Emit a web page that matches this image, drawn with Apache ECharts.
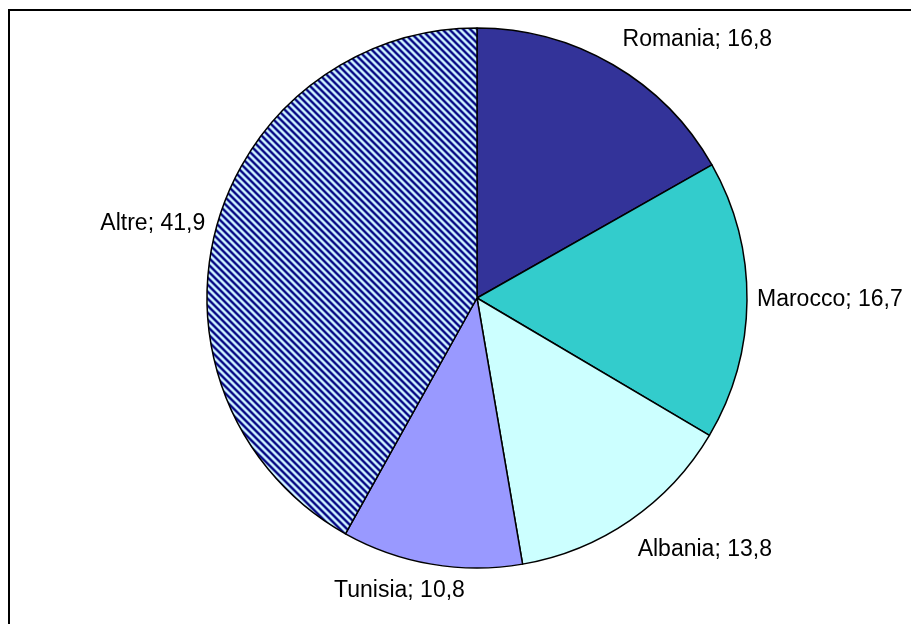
<!DOCTYPE html>
<html><head><meta charset="utf-8">
<script src="https://cdn.jsdelivr.net/npm/echarts@6/dist/echarts.min.js"></script>
<style>html,body{margin:0;padding:0;background:#fff}#c{width:911px;height:624px}</style>
</head><body><div id="c"></div>
<script>
const categories = ['Romania', 'Marocco', 'Albania', 'Tunisia', 'Altre'];
const values = [16.8, 16.7, 13.8, 10.8, 41.9];
const sliceColors = ['#333399', '#33cccc', '#ccffff', '#9999ff', null];

// diagonal stripe pattern for "Altre"
function makePattern() {
  const N = 7;
  const cv = document.createElement('canvas');
  cv.width = N; cv.height = N;
  const ctx = cv.getContext('2d');
  const img = ctx.createImageData(N, N);
  const dark = [0, 0, 128], light = [204, 240, 255];
  for (let y = 0; y < N; y++) for (let x = 0; x < N; x++) {
    const t = (((x - y) % N) + N) % N / N;
    let c = 0.55 - 0.6 * Math.cos(2 * Math.PI * t);
    c = Math.max(0, Math.min(1, c));
    const k = (y * N + x) * 4;
    for (let j = 0; j < 3; j++) img.data[k + j] = Math.round(dark[j] + (light[j] - dark[j]) * c);
    img.data[k + 3] = 255;
  }
  ctx.putImageData(img, 0, 0);
  return cv;
}
const pattern = { image: makePattern(), repeat: 'repeat' };

const labelOffsets = [[-3, -12], [-10, -1], [-6, 17], [41, 12], [9, -3]];

const chart = echarts.init(document.getElementById('c'), null, { renderer: 'canvas' });
chart.setOption({
  animation: false,
  backgroundColor: '#fff',
  graphic: [{
    type: 'rect', shape: { x: 9, y: 10, width: 940, height: 660 },
    style: { fill: 'none', stroke: '#000', lineWidth: 2 }, silent: true, z: -1
  }],
  series: [{
    type: 'pie',
    center: [477, 298],
    radius: 270,
    startAngle: 90,
    clockwise: true,
    avoidLabelOverlap: false,
    itemStyle: { borderColor: '#000', borderWidth: 1.5 },
    label: {
      show: true, position: 'outside',
      formatter: p => p.name + '; ' + String(p.value).replace('.', ','),
      fontFamily: 'Liberation Sans, Arial, sans-serif', fontSize: 23, color: '#000'
    },
    labelLine: { show: false, length: 15, length2: 0 },
    labelLayout: p => ({ dx: labelOffsets[p.dataIndex][0], dy: labelOffsets[p.dataIndex][1] }),
    emphasis: { disabled: true },
    data: categories.map((n, i) => ({
      name: n, value: values[i],
      itemStyle: { color: sliceColors[i] || pattern }
    }))
  }]
});
</script></body></html>
